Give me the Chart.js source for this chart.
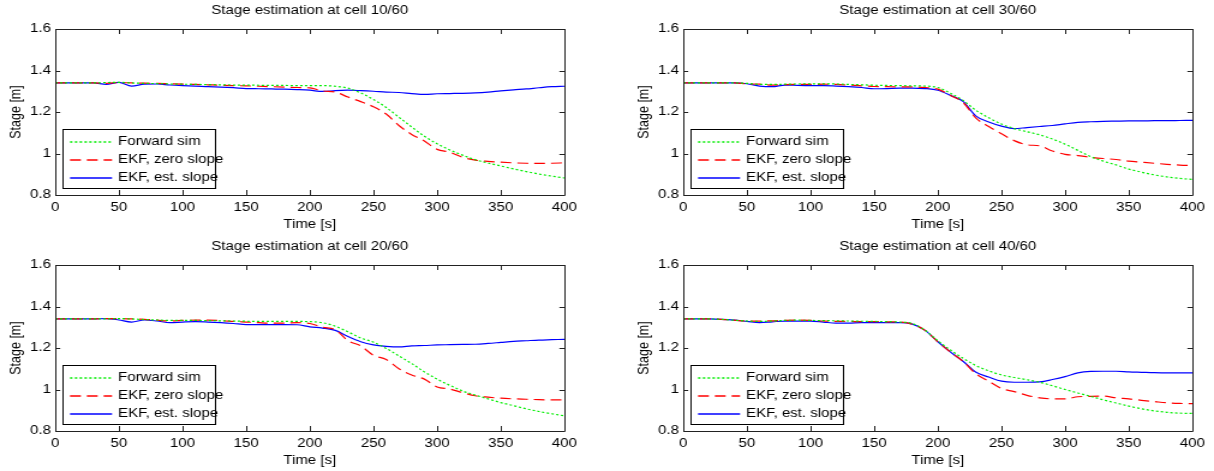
<!DOCTYPE html>
<html>
<head>
<meta charset="utf-8">
<script src="https://cdn.jsdelivr.net/npm/chart.js@4.4.0/dist/chart.umd.min.js"></script>
<style>
  html, body { margin: 0; padding: 0; background: #fff; width: 1214px; height: 471px; overflow: hidden; }
  canvas { position: absolute; }
</style>
</head>
<body>
<canvas id="c10" width="488" height="235" style="left:0px;top:0px;width:586px;height:235px"></canvas>
<canvas id="c30" width="488" height="235" style="left:628px;top:0px;width:586px;height:235px"></canvas>
<canvas id="c20" width="488" height="235" style="left:0px;top:236px;width:586px;height:235px"></canvas>
<canvas id="c40" width="488" height="235" style="left:628px;top:236px;width:586px;height:235px"></canvas>
<script>
// time axis, every 10 s
const time = [0,10,20,30,40,50,60,70,80,90,100,110,120,130,140,150,160,170,180,190,200,
  210,220,230,240,250,260,270,280,290,300,310,320,330,340,350,360,370,380,390,400];

const seriesNames = ['Forward sim', 'EKF, zero slope', 'EKF, est. slope'];
const xTicks = [0, 50, 100, 150, 200, 250, 300, 350, 400];
const yTicks = [0.8, 1, 1.2, 1.4, 1.6];

// cell 10/60
const fwd10 = [1.34,1.34,1.34,1.34,1.342,1.343,1.34,1.338,1.337,1.335,1.334,1.333,1.332,1.331,1.33,1.33,1.329,1.328,1.328,1.327,1.327,
  1.327,1.324,1.315,1.292,1.26,1.222,1.175,1.128,1.083,1.047,1.017,0.992,0.97,0.954,0.94,0.926,0.913,0.901,0.891,0.882];
const zero10 = [1.34,1.34,1.34,1.34,1.338,1.342,1.34,1.339,1.338,1.336,1.334,1.333,1.331,1.329,1.327,1.326,1.324,1.322,1.32,1.318,1.316,
  1.302,1.296,1.272,1.25,1.225,1.19,1.135,1.092,1.06,1.02,1.006,0.982,0.968,0.962,0.958,0.955,0.953,0.952,0.953,0.955];
const est10 = [1.34,1.34,1.34,1.34,1.333,1.343,1.325,1.334,1.335,1.33,1.327,1.325,1.322,1.32,1.317,1.313,1.312,1.311,1.31,1.308,1.305,
  1.299,1.303,1.305,1.303,1.3,1.296,1.294,1.289,1.285,1.288,1.289,1.29,1.292,1.296,1.302,1.307,1.311,1.317,1.322,1.324];

// cell 30/60
const fwd30 = [1.34,1.34,1.34,1.34,1.34,1.338,1.333,1.333,1.334,1.335,1.336,1.336,1.335,1.333,1.331,1.329,1.328,1.327,1.326,1.325,1.318,
  1.29,1.255,1.208,1.172,1.142,1.12,1.105,1.09,1.07,1.045,1.015,0.985,0.963,0.945,0.925,0.91,0.897,0.887,0.88,0.875];
const zero30 = [1.34,1.34,1.34,1.34,1.34,1.336,1.334,1.33,1.332,1.333,1.333,1.334,1.333,1.33,1.326,1.323,1.322,1.321,1.321,1.318,1.31,
  1.28,1.245,1.17,1.13,1.095,1.062,1.042,1.037,1.012,0.996,0.99,0.982,0.976,0.971,0.963,0.958,0.953,0.948,0.944,0.942];
const est30 = [1.34,1.34,1.34,1.34,1.34,1.336,1.325,1.322,1.33,1.328,1.327,1.327,1.325,1.322,1.318,1.312,1.313,1.315,1.315,1.313,1.305,
  1.28,1.25,1.18,1.152,1.132,1.12,1.125,1.13,1.135,1.143,1.15,1.153,1.155,1.156,1.157,1.157,1.158,1.158,1.159,1.16];

// cell 20/60
const fwd20 = [1.34,1.34,1.34,1.34,1.34,1.342,1.34,1.337,1.335,1.333,1.333,1.333,1.332,1.331,1.33,1.329,1.328,1.328,1.328,1.328,1.327,
  1.322,1.305,1.278,1.248,1.228,1.198,1.162,1.125,1.085,1.05,1.02,0.993,0.973,0.955,0.937,0.922,0.907,0.894,0.883,0.873];
const zero20 = [1.34,1.34,1.34,1.34,1.342,1.342,1.34,1.338,1.334,1.33,1.333,1.334,1.334,1.332,1.328,1.325,1.322,1.32,1.32,1.322,1.318,
  1.3,1.288,1.235,1.21,1.165,1.145,1.1,1.07,1.05,1.012,1.002,0.985,0.97,0.963,0.958,0.955,0.953,0.951,0.95,0.95];
const est20 = [1.34,1.34,1.34,1.34,1.342,1.335,1.325,1.335,1.33,1.322,1.325,1.327,1.325,1.322,1.318,1.313,1.313,1.313,1.313,1.312,1.302,
  1.296,1.285,1.255,1.23,1.215,1.208,1.205,1.21,1.212,1.215,1.216,1.217,1.218,1.222,1.227,1.232,1.235,1.238,1.24,1.242];

// cell 40/60
const fwd40 = [1.34,1.34,1.34,1.338,1.334,1.33,1.328,1.33,1.333,1.334,1.333,1.332,1.331,1.33,1.329,1.328,1.327,1.325,
  1.318,1.285,1.235,1.19,1.15,1.115,1.09,1.07,1.058,1.047,1.035,1.018,1.0,0.983,0.967,0.95,0.935,0.92,0.907,0.897,0.89,0.886,0.885];
const zero40 = [1.34,1.34,1.34,1.338,1.334,1.33,1.33,1.331,1.333,1.334,1.333,1.33,1.328,1.328,1.327,1.327,1.326,1.325,
  1.315,1.285,1.23,1.18,1.135,1.075,1.04,1.005,0.99,0.972,0.96,0.955,0.955,0.965,0.967,0.968,0.96,0.955,0.948,0.942,0.936,0.933,0.932];
const est40 = [1.34,1.34,1.34,1.338,1.334,1.328,1.322,1.326,1.33,1.33,1.33,1.325,1.32,1.32,1.322,1.322,1.322,1.322,
  1.315,1.285,1.23,1.18,1.135,1.083,1.06,1.04,1.035,1.035,1.037,1.048,1.062,1.08,1.087,1.088,1.088,1.085,1.083,1.081,1.08,1.08,1.08];

const S = 586 / 488; // horizontal stretch of the canvases (the figure text is wide)
const FONT = "'Liberation Sans', Arial, Helvetica, sans-serif";
const FSIZE = 12.5;
const lineColors = ['#00ee00', '#ff0000', '#0000ff'];
const lineDashes = [[2, 2], [9, 5], []];

// box round the axes with inward ticks, like matlab
const frame = {
  id: 'frame',
  afterDatasetsDraw(chart) {
    const ctx = chart.ctx;
    const a = chart.chartArea;
    const xs = chart.scales.x, ys = chart.scales.y;
    ctx.save();
    ctx.strokeStyle = '#222';
    ctx.lineWidth = 1;
    ctx.beginPath();
    ctx.rect(Math.round(a.left) + 0.5, Math.round(a.top) + 0.5, Math.round(a.right - a.left), Math.round(a.bottom - a.top));
    for (let v of xTicks) {
      let px = Math.round(xs.getPixelForValue(v)) + 0.5;
      ctx.moveTo(px, a.bottom); ctx.lineTo(px, a.bottom - 5);
      ctx.moveTo(px, a.top); ctx.lineTo(px, a.top + 5);
    }
    for (let v of yTicks) {
      let py = Math.round(ys.getPixelForValue(v)) + 0.5;
      ctx.moveTo(a.left, py); ctx.lineTo(a.left + 5 / S, py);
      ctx.moveTo(a.right, py); ctx.lineTo(a.right - 5 / S, py);
    }
    ctx.stroke();
    ctx.restore();
  }
};

// legend box in the lower left corner of the axes
const boxLegend = {
  id: 'boxLegend',
  afterDraw(chart) {
    const ctx = chart.ctx;
    const a = chart.chartArea;
    const bx = Math.round(a.left + 7 / S) + 0.5;
    const by = Math.round(a.top + 100) + 0.5;
    const bw = Math.round(153 / S), bh = 59;
    ctx.save();
    ctx.fillStyle = '#fff';
    ctx.fillRect(bx, by, bw, bh);
    ctx.strokeStyle = '#000';
    ctx.lineWidth = 1;
    ctx.strokeRect(bx, by, bw, bh);
    ctx.font = FSIZE + 'px ' + FONT;
    ctx.textBaseline = 'middle';
    ctx.textAlign = 'left';
    for (let i = 0; i < seriesNames.length; i++) {
      let yy = Math.round(by + 12 + i * 18);
      ctx.beginPath();
      ctx.lineWidth = 1.5;
      ctx.setLineDash(lineDashes[i]);
      ctx.strokeStyle = lineColors[i];
      ctx.moveTo(bx + 7 / S, yy);
      ctx.lineTo(bx + 49 / S, yy);
      ctx.stroke();
      ctx.setLineDash([]);
      ctx.fillStyle = '#000';
      ctx.fillText(seriesNames[i], bx + 55 / S, yy);
    }
    ctx.restore();
  }
};

function makeChart(id, title, fwd, zero, est) {
  let series = [fwd, zero, est];
  let datasets = series.map(function (arr, i) {
    return {
      label: seriesNames[i],
      data: time.map(function (t, j) { return {x: t, y: arr[j]}; }),
      borderColor: lineColors[i],
      borderDash: lineDashes[i],
      borderWidth: 1.2,
      pointRadius: 0,
      cubicInterpolationMode: 'monotone',
      fill: false
    };
  });
  return new Chart(document.getElementById(id), {
    type: 'line',
    data: {datasets: datasets},
    options: {
      responsive: false,
      animation: false,
      devicePixelRatio: 1,
      layout: {padding: {left: 0, right: 18, top: 0, bottom: 0}},
      plugins: {
        legend: {display: false},
        tooltip: {enabled: false},
        title: {
          display: true,
          fullSize: false, // centre the title over the axes, not the canvas
          text: title,
          color: '#000',
          font: {family: FONT, size: FSIZE, weight: 'normal'},
          padding: {top: 3.5, bottom: 10.5}
        }
      },
      scales: {
        x: {
          type: 'linear', min: 0, max: 400,
          afterBuildTicks: function (s) { s.ticks = xTicks.map(function (v) { return {value: v}; }); },
          grid: {display: false, drawTicks: false},
          border: {display: false},
          ticks: {color: '#000', font: {family: FONT, size: FSIZE}, padding: 5, maxRotation: 0},
          title: {display: true, text: 'Time [s]', color: '#000', font: {family: FONT, size: FSIZE}, padding: {top: 0, bottom: 2.5}},
          afterFit: function (s) { s.height = 40; }
        },
        y: {
          type: 'linear', min: 0.8, max: 1.6,
          afterBuildTicks: function (s) { s.ticks = yTicks.map(function (v) { return {value: v}; }); },
          grid: {display: false, drawTicks: false},
          border: {display: false},
          ticks: {color: '#000', font: {family: FONT, size: FSIZE}, padding: 3.5,
            callback: function (v) { return String(+v.toFixed(1)); }},
          title: {display: true, text: 'Stage [m]', color: '#000', font: {family: FONT, size: FSIZE}, padding: {top: 5.8, bottom: 0}},
          afterFit: function (s) { s.width = 46; }
        }
      }
    },
    plugins: [frame, boxLegend]
  });
}

makeChart('c10', 'Stage estimation at cell 10/60', fwd10, zero10, est10);
makeChart('c30', 'Stage estimation at cell 30/60', fwd30, zero30, est30);
makeChart('c20', 'Stage estimation at cell 20/60', fwd20, zero20, est20);
makeChart('c40', 'Stage estimation at cell 40/60', fwd40, zero40, est40);
</script>
</body>
</html>
